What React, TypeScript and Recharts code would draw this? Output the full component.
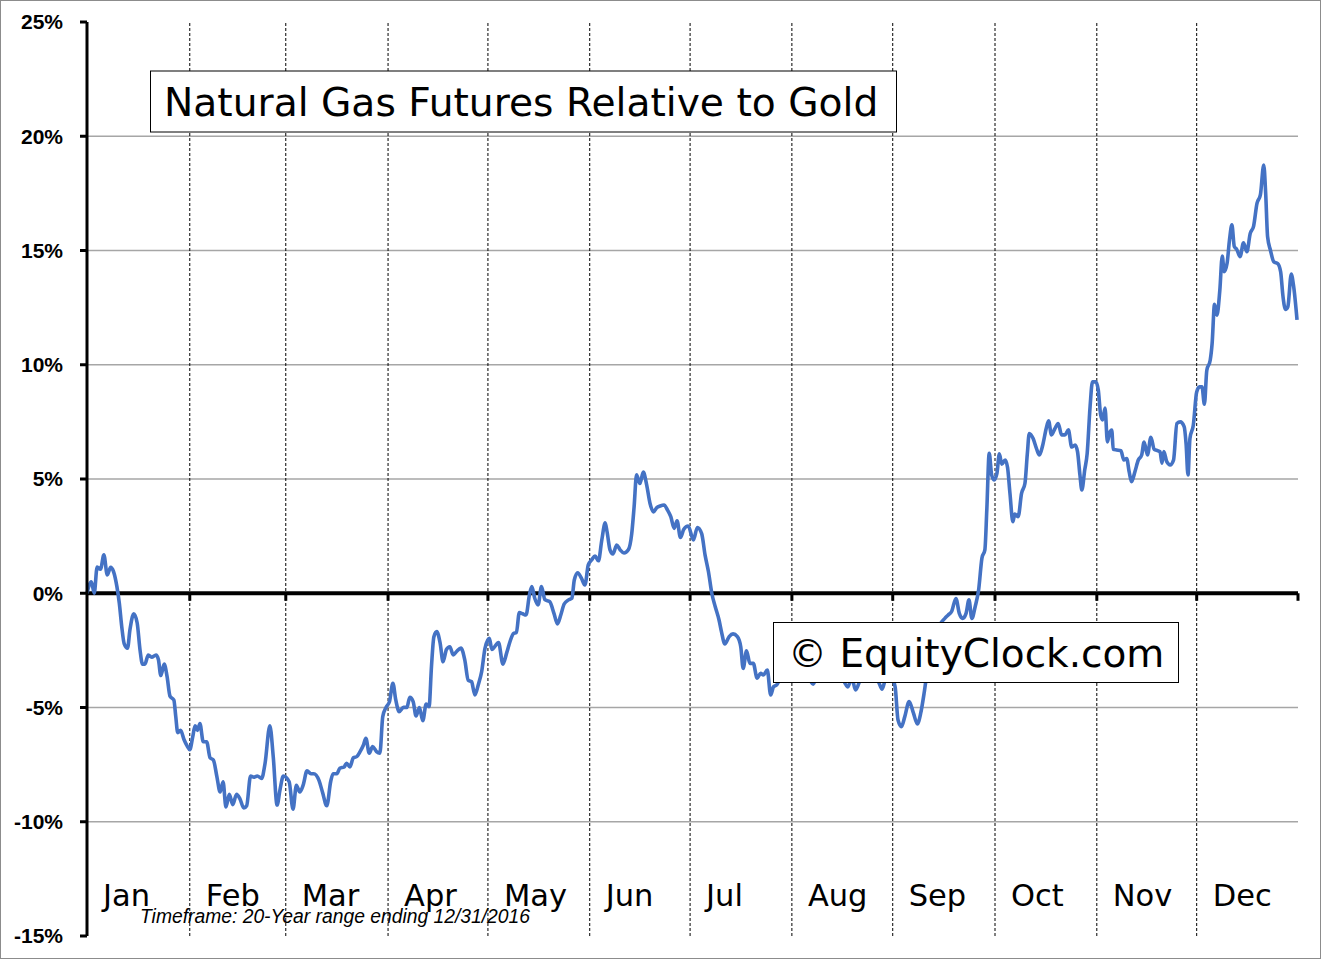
import { Line, LineChart, ReferenceLine, XAxis, YAxis } from "recharts";

// trading-day position in the year and the seasonal % move of nat gas vs gold
const tradingDays = [
  0.0, 0.9, 1.5, 2.1, 2.8, 3.5, 4.2, 4.9, 5.5, 6.2, 6.7, 7.2, 7.7, 8.4, 8.9, 9.7, 10.4, 11.0, 11.5, 12.0,
  12.7, 13.4, 14.3, 14.8, 15.3, 16.0, 16.6, 17.2, 18.0, 18.4, 18.8, 19.4, 20.1, 20.8, 21.3, 21.9, 22.4, 22.9, 23.4, 24.1,
  24.8, 25.5, 26.2, 26.9, 27.6, 28.2, 28.8, 29.5, 30.2, 31.0, 31.7, 32.5, 33.1, 33.9, 34.6, 35.3, 36.2, 36.9, 37.9, 38.6,
  39.4, 40.0, 40.7, 41.9, 42.7, 43.4, 44.1, 44.8, 45.6, 46.4, 47.0, 48.1, 48.8, 49.7, 50.5, 51.0, 51.8, 52.4, 53.3, 53.8,
  54.5, 55.2, 55.9, 56.6, 57.3, 57.8, 58.5, 59.2, 60.0, 60.7, 61.3, 62.0, 62.7, 63.4, 64.0, 64.7, 65.6, 66.3, 66.9, 67.6,
  68.2, 68.9, 69.6, 70.3, 70.9, 71.4, 71.9, 72.5, 73.2, 73.8, 74.5, 75.2, 75.9, 76.6, 77.5, 78.3, 79.0, 79.7, 80.4, 81.1,
  81.8, 82.5, 83.4, 83.9, 85.3, 86.2, 87.0, 87.7, 88.4, 89.0, 89.6, 90.3, 91.0, 91.7, 92.2, 92.8, 93.5, 94.2, 94.9, 95.9,
  96.8, 97.5, 98.2, 98.9, 99.8, 100.5, 101.0, 101.7, 102.5, 103.2, 103.9, 104.6, 105.3, 106.0, 106.7, 107.4, 107.8, 108.4, 109.0, 109.8,
  110.5, 111.3, 112.2, 112.9, 113.4, 113.9, 114.6, 115.3, 116.0, 116.7, 117.4, 118.1, 118.8, 119.6, 120.3, 121.0, 121.7, 122.3, 123.0, 123.7,
  124.6, 125.7, 126.5, 127.4, 128.1, 128.8, 129.5, 130.2, 131.0, 131.5, 132.2, 133.1, 133.9, 134.8, 135.5, 136.0, 136.7, 137.4, 138.1, 138.9,
  139.6, 140.2, 141.0, 141.7, 142.3, 143.0, 143.7, 144.9, 146.1, 147.3, 148.6, 149.8, 150.5, 151.3, 152.5, 153.8, 155.0, 156.3, 157.7, 158.5,
  159.3, 160.4, 161.7, 162.9, 164.1, 164.8, 165.6, 166.6, 167.5, 168.1, 168.8, 169.5, 170.4, 171.3, 172.1, 172.8, 173.5, 173.9, 174.9, 175.8,
  177.0, 177.8, 178.5, 179.2, 180.1, 180.8, 181.5, 182.2, 182.8, 183.4, 184.1, 184.8, 185.5, 186.1, 186.5, 187.0, 187.5, 188.0, 188.6, 189.1,
  189.6, 190.3, 190.8, 191.3, 191.9, 192.3, 193.0, 193.7, 194.4, 194.9, 195.3, 196.1, 196.8, 197.4, 198.1, 198.8, 199.3, 199.9, 200.6, 201.3,
  202.0, 202.7, 203.4, 204.1, 204.8, 205.3, 205.8, 206.2, 206.8, 207.3, 207.9, 208.4, 209.1, 209.6, 210.1, 210.5, 211.0, 211.5, 211.9, 212.4,
  212.7, 213.4, 214.3, 214.9, 215.5, 216.0, 216.5, 217.2, 217.9, 218.6, 219.1, 219.8, 220.5, 221.2, 221.9, 222.4, 222.8, 223.2, 223.8, 224.5,
  225.2, 225.9, 226.6, 227.4, 227.8, 228.2, 228.6, 229.3, 230.0, 230.6, 231.1, 231.6, 232.1, 232.8, 233.2, 233.7, 234.2, 234.8, 235.3, 235.7,
  236.3, 236.8, 237.3, 237.8, 238.3, 239.0, 239.7, 240.4, 241.1, 241.8, 242.5, 243.2, 243.9, 244.3, 244.7, 245.3, 246.0, 246.8, 247.4, 247.9,
  248.4, 248.9, 249.6, 250.1, 250.8,
];

const gasVsGold = [
  0.0, 0.5, 0.0, 1.15, 1.05, 1.68, 0.8, 1.14, 0.95, 0.29, -0.44, -1.46, -2.2, -2.4, -1.6, -0.9, -1.3, -2.5, -3.1, -3.1,
  -2.7, -2.8, -2.7, -2.9, -3.6, -3.1, -3.65, -4.5, -4.67, -5.4, -6.1, -6.0, -6.4, -6.7, -6.85, -6.3, -5.8, -6.0, -5.7, -6.5,
  -6.5, -7.2, -7.3, -8.0, -8.7, -8.25, -9.35, -8.8, -9.25, -8.8, -9.0, -9.4, -9.3, -8.0, -8.05, -8.0, -8.1, -7.45, -5.8, -7.15,
  -9.27, -8.6, -8.0, -8.25, -9.45, -8.4, -8.7, -8.4, -7.77, -7.9, -7.9, -8.2, -8.7, -9.3, -8.25, -7.9, -7.9, -7.66, -7.6, -7.44,
  -7.6, -7.2, -7.15, -6.93, -6.64, -6.35, -7.0, -6.71, -6.93, -7.0, -5.4, -4.99, -4.74, -3.94, -4.67, -5.18, -4.99, -5.0, -4.55, -4.74,
  -5.37, -5.0, -5.58, -4.85, -4.96, -3.2, -1.9, -1.68, -2.19, -3.0, -2.46, -2.34, -2.7, -2.55, -2.4, -2.92, -3.8, -3.87, -4.45, -4.0,
  -3.43, -2.4, -1.97, -2.46, -2.16, -3.1, -2.6, -2.1, -1.76, -1.72, -0.85, -0.9, -0.95, -0.07, 0.29, -0.22, -0.51, 0.29, -0.28, -0.37,
  -0.89, -1.34, -0.95, -0.47, -0.29, -0.22, 0.58, 0.9, 0.65, 0.36, 1.24, 1.46, 1.63, 1.42, 2.33, 3.08, 2.68, 1.9, 1.72, 2.11,
  1.9, 1.76, 1.9, 2.6, 3.79, 5.18, 4.8, 5.3, 4.74, 3.93, 3.56, 3.75, 3.82, 3.86, 3.65, 3.35, 2.84, 3.17, 2.44, 2.8,
  2.94, 2.33, 2.88, 2.61, 1.68, 0.95, 0.0, -0.58, -1.17, -1.68, -2.22, -1.9, -1.78, -1.9, -2.34, -3.29, -2.52, -3.07, -3.07, -3.72,
  -3.5, -3.58, -3.36, -4.45, -4.09, -4.0, -3.7, -3.5, -3.6, -3.3, -3.6, -3.8, -3.98, -3.6, -3.4, -3.5, -3.3, -3.6, -4.1, -3.7,
  -4.23, -3.7, -3.4, -3.6, -3.9, -4.2, -3.7, -3.6, -4.1, -5.55, -5.84, -5.4, -4.74, -5.25, -5.72, -5.25, -4.38, -3.8, -2.9, -2.0,
  -1.3, -1.1, -0.95, -0.8, -0.23, -0.88, -1.1, -0.88, -0.29, -1.1, -0.58, 0.14, 1.55, 1.9, 3.65, 6.13, 5.18, 4.96, 5.25, 6.1,
  5.65, 5.83, 5.5, 4.37, 3.13, 3.47, 3.35, 4.37, 4.8, 6.11, 6.99, 6.77, 6.33, 6.05, 6.49, 7.2, 7.55, 6.93, 7.2, 7.43,
  6.93, 6.93, 7.15, 6.4, 6.49, 6.2, 5.18, 4.52, 5.4, 6.11, 8.15, 9.25, 9.25, 8.9, 7.8, 7.58, 8.1, 6.62, 6.99, 7.14,
  6.3, 6.27, 6.24, 5.83, 5.9, 5.32, 4.88, 5.32, 5.83, 6.05, 6.62, 6.05, 6.82, 6.3, 6.24, 6.2, 5.69, 6.2, 5.76, 5.62,
  5.83, 7.43, 7.5, 7.29, 6.55, 5.18, 6.77, 7.35, 8.81, 9.03, 9.03, 8.27, 9.76, 10.2, 10.93, 12.65, 12.17, 13.27, 14.76, 14.07,
  14.44, 15.46, 16.12, 15.17, 15.05, 14.73, 15.34, 14.95, 15.75, 16.07, 17.06, 17.43, 18.74, 17.5, 15.6, 15.0, 14.5, 14.43, 14.07, 12.97,
  12.42, 12.54, 13.97, 13.42, 11.96,
];

const monthNames = ["Jan", "Feb", "Mar", "Apr", "May", "Jun", "Jul", "Aug", "Sep", "Oct", "Nov", "Dec"];
const monthStartDays = [0, 21.3, 41.2, 62.4, 83.1, 104.2, 125, 146.1, 167, 188.2, 209.3, 230];
const lastDay = 251;
const yTicks = [-15, -10, -5, 0, 5, 10, 15, 20, 25];
const gridValues = [-10, -5, 5, 10, 15, 20];

const WIDTH = 1321;
const HEIGHT = 959;
const labelFont = "'DejaVu Sans', Verdana, sans-serif";
const arialFont = "'Liberation Sans', Arial, sans-serif";

const data = tradingDays.map((day, i) => ({ day, pct: gasVsGold[i] }));

function MonthTick({ x, y, payload }: any) {
  const name = monthNames[monthStartDays.indexOf(payload.value)];
  return (
    <text x={x + 16} y={y - 30} textAnchor="start" fontFamily={labelFont} fontSize={30.5} fill="#000">
      {name}
    </text>
  );
}

export default function App() {
  return (
    <div style={{ position: "absolute", left: 0, top: 0, width: WIDTH, height: HEIGHT, background: "#fff" }}>
      <LineChart width={WIDTH} height={HEIGHT} data={data} margin={{ top: 22, right: 23, bottom: 0, left: 0 }}>
        {gridValues.map((v) => (
          <ReferenceLine key={`g${v}`} y={v} stroke="#a6a6a6" strokeWidth={1.3} />
        ))}
        {monthStartDays.slice(1).map((d) => (
          <ReferenceLine key={`m${d}`} x={d} stroke="#000" strokeWidth={1} strokeDasharray="3 2" />
        ))}
        <ReferenceLine y={0} stroke="#000" strokeWidth={4} />
        {[...monthStartDays.slice(1), lastDay].map((d) => (
          <ReferenceLine
            key={`t${d}`}
            segment={[
              { x: d, y: 0 },
              { x: d, y: -0.33 },
            ]}
            stroke="#000"
            strokeWidth={3}
          />
        ))}
        <XAxis
          dataKey="day"
          type="number"
          domain={[0, lastDay]}
          ticks={monthStartDays}
          interval={0}
          axisLine={false}
          tickLine={false}
          tickSize={0}
          tickMargin={0}
          height={23}
          tick={<MonthTick />}
        />
        <YAxis
          type="number"
          domain={[-15, 25]}
          ticks={yTicks}
          interval={0}
          width={87}
          axisLine={{ stroke: "#000", strokeWidth: 3 }}
          tickLine={{ stroke: "#000", strokeWidth: 3 }}
          tickSize={7}
          tickMargin={17}
          tickFormatter={(v: number) => `${v}%`}
          tick={{ fill: "#000", fontSize: 21, fontWeight: 700, fontFamily: arialFont }}
        />
        <Line
          type="monotone"
          dataKey="pct"
          stroke="#4472C4"
          strokeWidth={3.6}
          dot={false}
          isAnimationActive={false}
        />
      </LineChart>
      <svg
        width={WIDTH}
        height={HEIGHT}
        style={{ position: "absolute", left: 0, top: 0, pointerEvents: "none" }}
      >
        <rect x={0.5} y={0.5} width={WIDTH - 1} height={HEIGHT - 1} fill="none" stroke="#8c8c8c" strokeWidth={1} />
        <rect x={150.5} y={71} width={746} height={61} fill="#fff" stroke="#000" strokeWidth={1} />
        <text x={164} y={116} fontFamily={labelFont} fontSize={39.2} fill="#000">
          Natural Gas Futures Relative to Gold
        </text>
        <rect x={773.5} y={622.5} width={405} height={60} fill="#fff" stroke="#000" strokeWidth={1} />
        <text x={788} y={667} fontFamily={labelFont} fontSize={39} fill="#000">
          © EquityClock.com
        </text>
        <text x={140} y={923} fontFamily={arialFont} fontStyle="italic" fontSize={19.3} fill="#000">
          Timeframe: 20-Year range ending 12/31/2016
        </text>
      </svg>
    </div>
  );
}
